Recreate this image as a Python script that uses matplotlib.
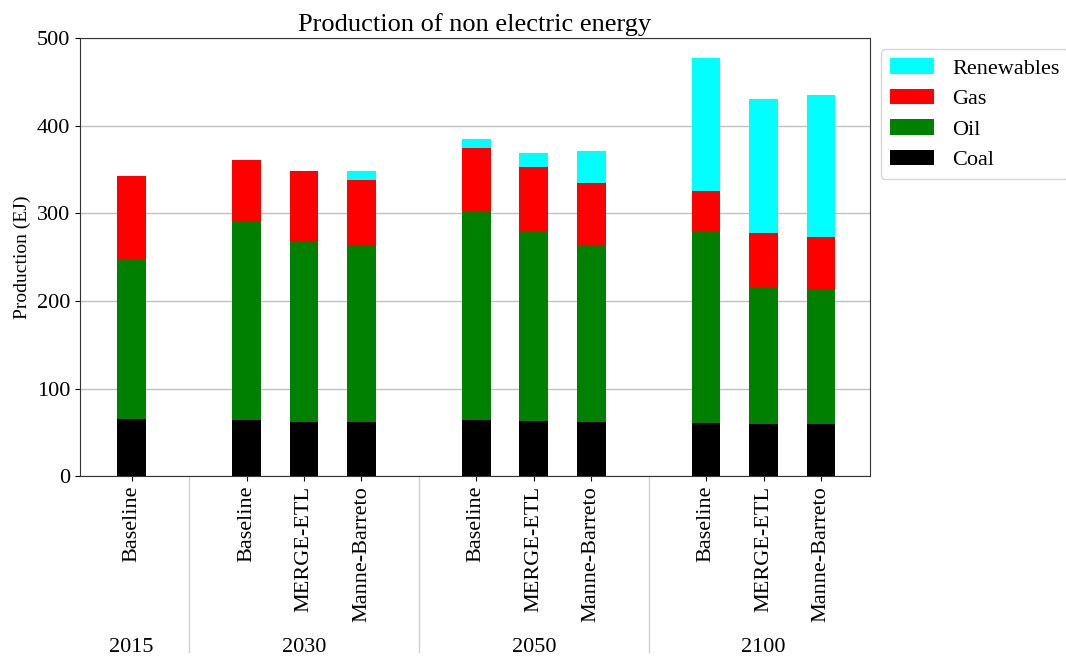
import matplotlib.pyplot as plt
import numpy as np

plt.rcParams['font.family'] = ['Liberation Serif', 'DejaVu Serif']

years = ["2015", "2030", "2050", "2100"]
scenarios = ["Baseline",
             "Baseline", "MERGE-ETL", "Manne-Barreto",
             "Baseline", "MERGE-ETL", "Manne-Barreto",
             "Baseline", "MERGE-ETL", "Manne-Barreto"]
group_sizes = [1, 3, 3, 3]

# stacked values (EJ)
coal = [65, 64, 62, 62, 64, 63, 62, 61, 60, 60]
oil = [183, 227, 207, 201, 237, 216, 202, 219, 155, 153]
gas = [95, 70, 79, 75, 73, 74, 71, 46, 63, 60]
renewables = [0, 0, 0, 10, 11, 16, 36, 151, 153, 162]

# bar positions with an empty slot between year groups
pos = []
sep = []
x = 0
for n in group_sizes:
    pos.extend(range(x, x + n))
    sep.append(x + n)
    x += n + 1
sep = sep[:-1]
pos = np.array(pos)

fig = plt.figure(figsize=(10.66, 6.56), dpi=100)
ax = fig.add_axes([0.075, 0.274, 0.741, 0.668])

w = 0.5
b1 = np.array(coal)
b2 = b1 + np.array(oil)
b3 = b2 + np.array(gas)
ax.bar(pos, coal, w, color="black", label="Coal", zorder=3)
ax.bar(pos, oil, w, bottom=b1, color="green", label="Oil", zorder=3)
ax.bar(pos, gas, w, bottom=b2, color="red", label="Gas", zorder=3)
ax.bar(pos, renewables, w, bottom=b3, color="cyan", label="Renewables", zorder=3)

ax.set_xlim(-0.9, 12.85)
ax.set_ylim(0, 500)
ax.yaxis.grid(True, color="#c0c0c0", linewidth=1, zorder=0)
ax.set_axisbelow(True)
for sp in ax.spines.values():
    sp.set_color("#333333")

ax.set_xticks(pos)
ax.set_xticklabels(scenarios, rotation=90, fontsize=16)
ax.tick_params(axis="y", labelsize=16)
ax.set_ylabel("Production (EJ)", fontsize=14)
ax.set_title("Production of non electric energy", fontsize=19, pad=5)

# group separators and year labels under the axis
trans = ax.get_xaxis_transform()
for s in sep:
    ax.plot([s, s], [0, -0.40], color="#d0d0d0", linewidth=1,
            transform=trans, clip_on=False)
start = 0
for yr, n in zip(years, group_sizes):
    mid = pos[start:start + n].mean()
    ax.text(mid, -0.39, yr, transform=trans, ha="center", va="center", fontsize=16)
    start += n

handles, labels = ax.get_legend_handles_labels()
ax.legend(handles[::-1], labels[::-1], loc="upper left", bbox_to_anchor=(1.0, 1.0),
          fontsize=16, handlelength=2.0, labelspacing=0.45)

fig.savefig("out.png", dpi=100)
